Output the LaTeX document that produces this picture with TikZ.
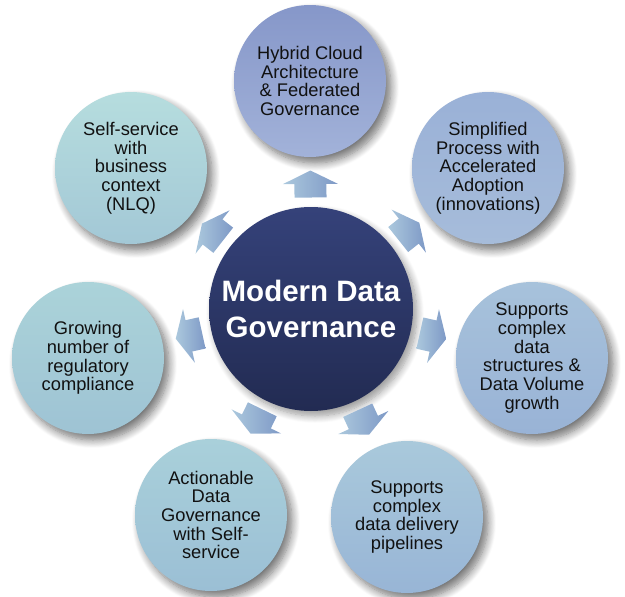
\documentclass[tikz,border=0pt]{standalone}
\usepackage{fontspec}
\setmainfont{Liberation Sans}
\usetikzlibrary{calc,shadows.blur}

\definecolor{hubtop}{HTML}{35427A}
\definecolor{hubbot}{HTML}{222B52}
\definecolor{inktext}{HTML}{111111}
\definecolor{arrlight}{HTML}{ABC8DD}
\definecolor{arrdark}{HTML}{7E99C6}
% petal colours, upper and lower tone
\definecolor{topA}{HTML}{8697C9}\definecolor{topB}{HTML}{A2B2D9}
\definecolor{urA}{HTML}{9AB1D7}\definecolor{urB}{HTML}{A6BCDA}
\definecolor{rA}{HTML}{A7C2DB}\definecolor{rB}{HTML}{99B3D6}
\definecolor{lrA}{HTML}{A9C9DB}\definecolor{lrB}{HTML}{98B5D6}
\definecolor{llA}{HTML}{A9D0DA}\definecolor{llB}{HTML}{9BBFD5}
\definecolor{lA}{HTML}{ABD3D9}\definecolor{lB}{HTML}{9EC3D4}
\definecolor{ulA}{HTML}{B6DDDE}\definecolor{ulB}{HTML}{A3C8D6}

% block arrow pointing along local +x, centred on the placement point
\tikzset{
  barrow/.pic={
    \shade[left color=arrlight, right color=arrdark]
      (-13.5,-16) -- (0,-16) -- (0,-27.5) -- (13.5,0) -- (0,27.5) -- (0,16) -- (-13.5,16) -- cycle;
  },
  petal/.style={circle, minimum size=152pt, inner sep=0pt, align=center,
    text=inktext, font=\fontsize{18.3}{18.7}\selectfont,
    blur shadow={shadow xshift=5pt, shadow yshift=-6pt, shadow blur radius=8pt,
      shadow blur steps=10, shadow opacity=55}},
  hub/.style={circle, minimum size=204pt, inner sep=0pt, align=center,
    top color=hubtop, bottom color=hubbot, text=white,
    font=\fontsize{29.5}{36}\selectfont\bfseries,
    blur shadow={shadow xshift=4pt, shadow yshift=-5pt, shadow blur radius=7pt,
      shadow blur steps=10, shadow opacity=40}},
}

% arrow from the hub towards a petal, 125 units out from the hub centre
\newcommand\hubarrow[2]{%
  \path let \p1=($(#2.center)-(#1.center)$), \n1={atan2(\y1,\x1)} in
    ($(#1.center)!125pt!(#2.center)$) pic[rotate=\n1] {barrow};}

\begin{document}
\begin{tikzpicture}[x=1pt,y=-1pt]
  \useasboundingbox (0,0) rectangle (625,597);

  \node[petal, top color=topA, bottom color=topB] (top) at (310,81)
    {Hybrid Cloud\\Architecture\\\& Federated\\Governance};
  \node[petal, top color=urA, bottom color=urB] (ur) at (488,168)
    {Simplified\\Process with\\Accelerated\\Adoption\\(innovations)};
  \node[petal, top color=rA, bottom color=rB] (rt) at (532,358)
    {Supports\\complex\\data\\structures \&\\Data Volume\\growth};
  \node[petal, top color=lrA, bottom color=lrB] (lr) at (407,517)
    {Supports\\complex\\data delivery\\pipelines};
  \node[petal, top color=llA, bottom color=llB] (ll) at (211,515)
    {Actionable\\Data\\Governance\\with Self-\\service};
  \node[petal, top color=lA, bottom color=lB] (lf) at (88,358)
    {Growing\\number of\\regulatory\\compliance};
  \node[petal, top color=ulA, bottom color=ulB] (ul) at (131,168)
    {Self-service\\with\\business\\context\\(NLQ)};

  \node[hub] (hub) at (311,309) {Modern Data\\Governance};

  \foreach \t in {top,ur,rt,lr,ll,lf,ul}{\hubarrow{hub}{\t}}
\end{tikzpicture}
\end{document}
